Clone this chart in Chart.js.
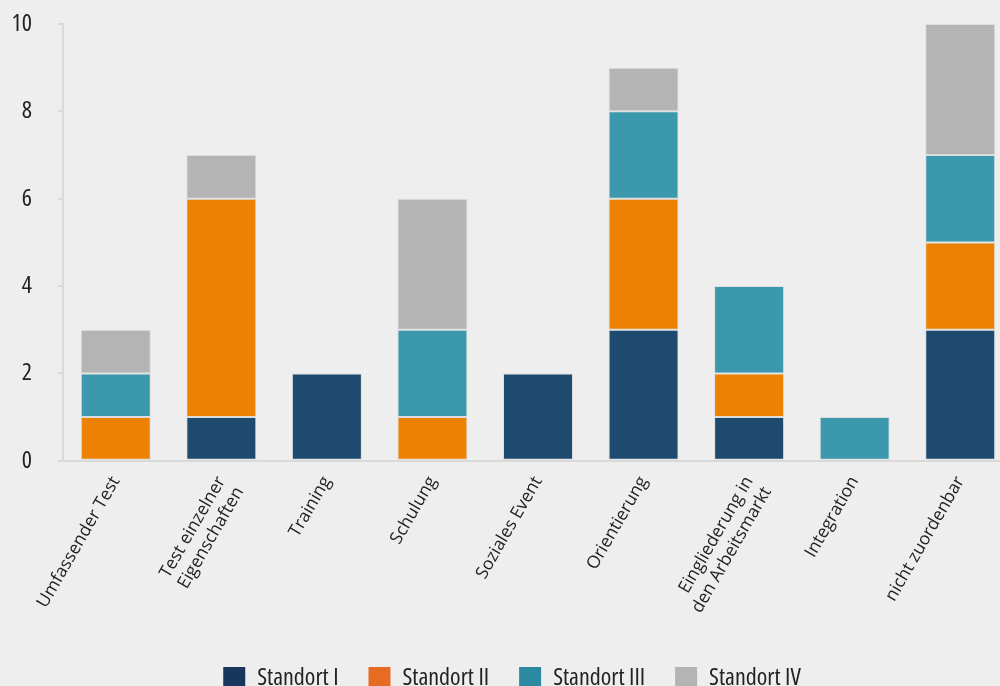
<!DOCTYPE html>
<html>
<head>
<meta charset="utf-8">
<script src="https://cdn.jsdelivr.net/npm/chart.js@4"></script>
<style>
html,body{margin:0;padding:0;background:#eeeeee;overflow:hidden;}
#wrap{width:1013px;height:700px;position:relative;}
</style>
</head>
<body>
<div id="wrap"><canvas id="c"></canvas></div>
<script>
const categories = [
  "Umfassender Test",
  ["Test einzelner", "Eigenschaften"],
  "Training",
  "Schulung",
  "Soziales Event",
  "Orientierung",
  ["Eingliederung in", "den Arbeitsmarkt"],
  "Integration",
  "nicht zuordenbar"
];
const standortI   = [0, 1, 2, 0, 2, 3, 1, 0, 3];
const standortII  = [1, 5, 0, 1, 0, 3, 1, 0, 2];
const standortIII = [1, 0, 0, 2, 0, 2, 2, 1, 2];
const standortIV  = [1, 1, 0, 3, 0, 1, 0, 0, 3];
const seriesNames = ["Standort I", "Standort II", "Standort III", "Standort IV"];
const yTicks = [0, 2, 4, 6, 8, 10];

const barColors = ["#1f4a70", "#ec8103", "#3c98ad", "#b4b4b4"];
const legendColors = ["#17375e", "#e66c23", "#2b8aa0", "#b4b4b4"];
const FONT = '"Open Sans", sans-serif';

const allSeries = [standortI, standortII, standortIII, standortIV];
const datasets = allSeries.map((vals, i) => ({
  label: seriesNames[i],
  data: vals,
  backgroundColor: barColors[i],
  borderColor: 'rgba(200,200,200,0.45)',
  borderWidth: 1,
  borderSkipped: false,
  categoryPercentage: 1,
  barPercentage: 0.663
}));

const noPad = (s) => { s.paddingLeft = 0; s.paddingRight = 0; s.paddingTop = 0; s.paddingBottom = 0; };

new Chart(document.getElementById('c'), {
  type: 'bar',
  data: { labels: categories, datasets },
  options: {
    responsive: true,
    maintainAspectRatio: false,
    animation: false,
    layout: { padding: { top: 24, right: 0, left: 11, bottom: 0 } },
    scales: {
      x: {
        stacked: true,
        afterFit: noPad,
        grid: { display: false },
        border: { display: true, color: '#d9d9d9', width: 2 },
        ticks: {
          color: '#222',
          font: { family: FONT, size: 17.5 },
          minRotation: 60, maxRotation: 60,
          padding: 4,
          autoSkip: false
        }
      },
      y: {
        stacked: true,
        min: 0, max: 10,
        afterFit: (s) => { noPad(s); s.width = 52; },
        afterBuildTicks: (s) => { s.ticks = yTicks.map(v => ({ value: v })); },
        grid: { drawOnChartArea: false, drawTicks: true, tickLength: 5, color: '#d9d9d9', lineWidth: 2 },
        border: { display: true, color: '#d9d9d9', width: 2 },
        ticks: {
          color: '#222',
          font: { family: FONT, size: 24, weight: 'condensed' },
          padding: 26
        }
      }
    },
    plugins: {
      tooltip: { enabled: false },
      legend: {
        position: 'bottom',
        title: { display: true, text: ' ', font: { size: 5 }, padding: { top: 0, bottom: 4 } },
        labels: {
          color: '#222',
          font: { family: FONT, size: 24, weight: 'condensed' },
          boxWidth: 22,
          boxHeight: 22,
          padding: 30,
          generateLabels: (chart) => seriesNames.map((n, i) => ({
            text: n,
            fillStyle: legendColors[i],
            strokeStyle: legendColors[i],
            lineWidth: 0,
            hidden: false,
            datasetIndex: i,
            fontColor: '#222'
          }))
        }
      }
    }
  }
});
</script>
</body>
</html>
